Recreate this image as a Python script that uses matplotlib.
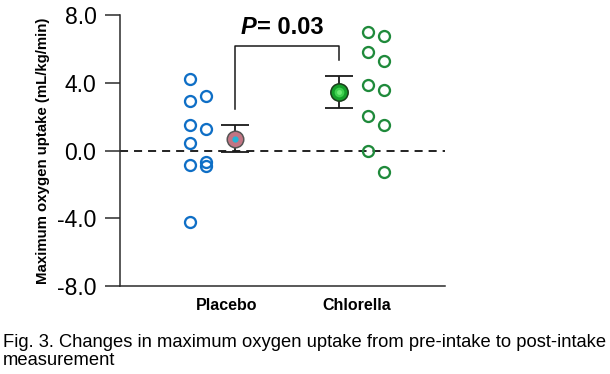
import matplotlib
matplotlib.use("Agg")
import matplotlib.pyplot as plt
import numpy as np

plt.rcParams['font.family'] = ['Liberation Sans', 'DejaVu Sans']
plt.rcParams['lines.scale_dashes'] = False

# ---- data ----
groups = ["Placebo", "Chlorella"]
placebo_col1 = [4.24, 2.96, 1.50, 0.46, -0.85, -4.22]
placebo_col2 = [3.25, 1.30, -0.69, -0.93]
chlorella_col1 = [7.00, 5.82, 3.91, 2.03, -0.04]
chlorella_col2 = [6.80, 5.33, 3.57, 1.54, -1.26]
group_means = [0.72, 3.47]
group_errs = [0.82, 0.94]
p_value_text = "= 0.03"
yticks = [-8, -4, 0, 4, 8]
ytick_labels = ["-8.0", "-4.0", "0.0", "4.0", "8.0"]
ylabel = "Maximum oxygen uptake (mL/kg/min)"
caption_lines = ["Fig. 3. Changes in maximum oxygen uptake from pre-intake to post-intake",
                 "measurement"]

blue = "#0F6FC6"
green = "#1F8A3B"
axcol = "#2b2b2b"

fig = plt.figure(figsize=(6.10, 3.74), dpi=100)
ax = fig.add_axes([0.1967, 0.2353, 0.5328, 0.7233])

pos = np.array([1.0, 2.0])
col_off1, col_off2, mean_off = -0.285, -0.162, 0.062
g_off1, g_off2, gmean_off = 0.085, 0.208, -0.138

ms, mew = 7.9, 1.65
ax.plot([pos[0] + col_off1] * len(placebo_col1), placebo_col1, 'o', ms=ms, mfc='none', mec=blue, mew=mew, zorder=3)
ax.plot([pos[0] + col_off2] * len(placebo_col2), placebo_col2, 'o', ms=ms, mfc='none', mec=blue, mew=mew, zorder=3)
ax.plot([pos[1] + g_off1] * len(chlorella_col1), chlorella_col1, 'o', ms=ms, mfc='none', mec=green, mew=mew, zorder=3)
ax.plot([pos[1] + g_off2] * len(chlorella_col2), chlorella_col2, 'o', ms=ms, mfc='none', mec=green, mew=mew, zorder=3)

mx = [pos[0] + mean_off, pos[1] + gmean_off]
ax.errorbar(mx, group_means, yerr=group_errs, fmt='none', ecolor='#1a1a1a',
            elinewidth=1.3, capsize=10.4, capthick=1.3, zorder=4)
# placebo mean marker
ax.plot(mx[0], group_means[0], 'o', ms=11.9, mfc='#C27584', mec='#555555', mew=1.1, zorder=5)
ax.plot(mx[0], group_means[0], 'o', ms=4.5, mfc='#22B4D8', mec='none', zorder=6)
# chlorella mean marker (approximate gradient)
ax.plot(mx[1], group_means[1], 'o', ms=12.5, mfc='#14A02A', mec='#1a3d1a', mew=1.1, zorder=5)
ax.plot(mx[1], group_means[1], 'o', ms=7, mfc='#3ED04E', mec='none', zorder=6)
ax.plot(mx[1], group_means[1], 'o', ms=3.5, mfc='#6CEB74', mec='none', zorder=7)

# zero dashed line
ax.axhline(0, color='#222222', lw=1.4, dashes=(5.8, 4.3), zorder=2)

# significance bracket
br_y = 6.2
gap = 0.95
ax.plot([mx[0], mx[0], mx[1], mx[1]],
        [group_means[0] + group_errs[0] + gap, br_y, br_y, group_means[1] + group_errs[1] + gap],
        color='#1a1a1a', lw=1.1, zorder=4)

# P text: bold-italic P + bold rest
fig.canvas.draw()
r = fig.canvas.get_renderer()
tp = ax.text(1.105, 6.9, "P", fontsize=17, fontweight='bold', fontstyle='italic',
             ha='left', va='baseline', color='black')
bb = tp.get_window_extent(renderer=r)
x_right = ax.transData.inverted().transform((bb.x1 + 9, bb.y0))[0]
ax.text(x_right, 6.9, p_value_text, fontsize=17, fontweight='bold', ha='left', va='baseline', color='black')

ax.set_xlim(0.177, 2.677)
ax.set_ylim(-8, 8)
ax.set_yticks(yticks)
ax.set_yticklabels(ytick_labels, fontsize=16.5)
ax.set_xticks(pos)
ax.set_xticklabels(groups, fontsize=11.5, fontweight='bold')
ax.tick_params(axis='x', length=0, pad=9)
ax.tick_params(axis='y', length=11, width=1.1, color=axcol, pad=6)
for s in ['top', 'right']:
    ax.spines[s].set_visible(False)
for s in ['left', 'bottom']:
    ax.spines[s].set_color(axcol)
    ax.spines[s].set_linewidth(1.1)
ax.set_ylabel(ylabel, fontsize=10.8, fontweight='bold', labelpad=5)

fig.text(0.005, 1 - 347 / 374, caption_lines[0], fontsize=13.2, va='baseline', ha='left')
fig.text(0.005, 1 - 365 / 374, caption_lines[1], fontsize=13.2, va='baseline', ha='left')

fig.savefig("out.png", dpi=100)
